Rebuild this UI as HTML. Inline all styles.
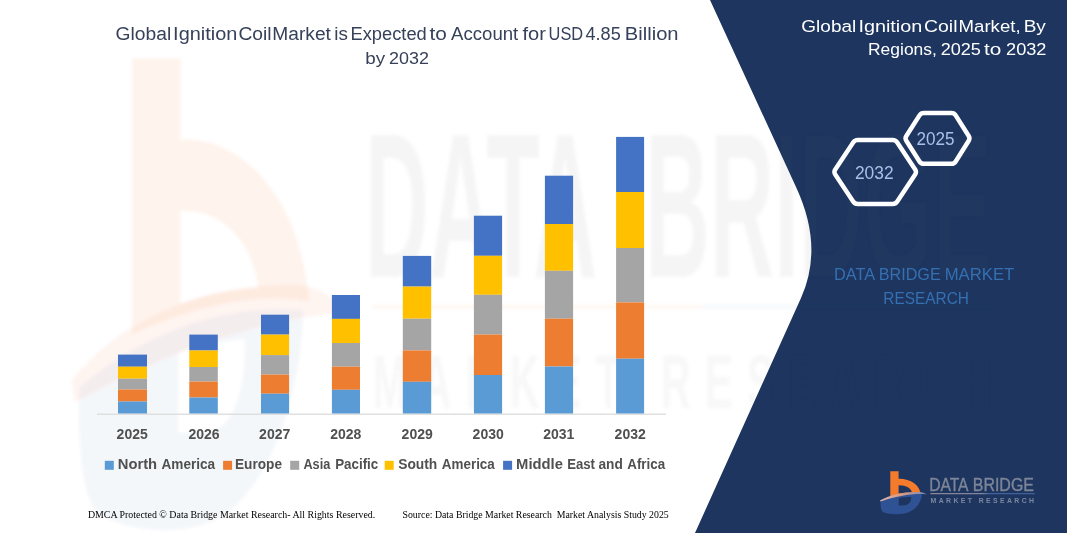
<!DOCTYPE html>
<html>
<head>
<meta charset="utf-8">
<title>Global Ignition Coil Market</title>
<style>
html,body{margin:0;padding:0;background:#fff;}
body{width:1067px;height:533px;overflow:hidden;font-family:"Liberation Sans",sans-serif;}
svg{display:block;}
text{font-family:"Liberation Sans",sans-serif;}
.serif{font-family:"Liberation Serif",serif;}
</style>
</head>
<body>
<svg width="1067" height="533" viewBox="0 0 1067 533">
  <defs>
    <path id="panel" d="M710,0 L796,187 Q824,247 801,298 L695,533 L1067,533 L1067,0 Z"/>

    <linearGradient id="swg" x1="0" x2="1" y1="0" y2="0">
      <stop offset="0" stop-color="#d6b6b4"/><stop offset="0.45" stop-color="#d99a84"/><stop offset="0.8" stop-color="#9a93aa"/><stop offset="1" stop-color="#6f86b4"/>
    </linearGradient>
    <linearGradient id="ulg" x1="0" x2="1" y1="0" y2="0">
      <stop offset="0" stop-color="#a79aa6"/><stop offset="0.5" stop-color="#9c97ad"/><stop offset="0.56" stop-color="#4d6fae"/><stop offset="1" stop-color="#4a6aa8"/>
    </linearGradient>
    <!-- logo icon pieces in logo pixel coordinates -->
    <path id="lg-b" fill-rule="evenodd" d="M890.3,471.3 L898.6,471.3 L898.6,478.7 C904,478.5 910,480 914.2,483.2 C918,486 920,489.6 920.6,493.4 C912,492.6 902,493.6 890.3,496.4 Z M898.6,485.2 L898.6,493.6 C903,492.8 907.6,492.3 911.9,492.2 C911,488.2 906,485 898.6,485.2 Z"/>
    <path id="lg-sw" d="M880,500.6 C889,494.6 904,491.6 919,491.9 C922.4,492.2 924.8,493 926.6,494.4 C915,493.2 897,495.6 880.6,501.6 Z"/>
    <path id="wm-sw" d="M880,500.6 C889,494.6 904,491.6 919,491.9 C922.4,492.2 924.8,493 926.6,494.4 C915,494.8 897,497.6 880.6,502.6 Z"/>
    <path id="lg-bl" fill-rule="evenodd" d="M880.6,501.2 C893,496 908,493.6 922,494.2 C921.6,501 917,509 908,512.6 C902,514.8 890,514.6 884,512.6 C881.4,511.4 880.2,507 880.6,501.2 Z M898.8,498 L898.8,505.4 L905.4,505.2 C909.6,504.6 911.6,500.6 911.2,496.8 C907,497 902.6,497.4 898.8,498 Z"/>

    <filter id="wmblur" x="-5%" y="-5%" width="110%" height="110%"><feGaussianBlur stdDeviation="1.6"/></filter>
    <clipPath id="whiteClip"><path d="M0,0 L710,0 L796,187 Q824,247 801,298 L695,533 L0,533 Z"/></clipPath>
    <clipPath id="panelClip"><use href="#panel"/></clipPath>
  </defs>

  <!-- background -->
  <rect x="0" y="0" width="1067" height="533" fill="#ffffff"/>

  <!-- WATERMARK-WHITE -->

  <!-- navy panel -->
  <use href="#panel" fill="#1d355f"/>

  <!-- WATERMARK-NAVY -->
  <g clip-path="url(#whiteClip)"><g id="watermark" filter="url(#wmblur)">
    <g transform="matrix(5.4 0 0 11 -4675.6 -5126)">
      <use href="#lg-bl" fill="#2f5295" opacity="0.047"/>
    </g>
    <g transform="matrix(5.85 0 0 11 -5076.3 -5126)">
      <use href="#lg-b" fill="#ea5a1a" opacity="0.07"/>
      <use href="#wm-sw" fill="#ea5a1a" opacity="0.06"/>
    </g>
    <g transform="matrix(6 0 0 11 -5211 -5126)">
      <g font-size="18.8" font-weight="bold" fill="#777777" opacity="0.075">
        <text x="929.34" y="491.2" textLength="38.68" lengthAdjust="spacingAndGlyphs">DATA</text>
        <text x="976.03" y="491.2" textLength="57.85" lengthAdjust="spacingAndGlyphs">BRIDGE</text>
      </g>
      <text x="930.6" y="503.1" font-size="6.9" font-weight="bold" fill="#777777" opacity="0.05" textLength="103.4" lengthAdjust="spacing">MARKET  RESEARCH</text>
    </g>
    <rect x="372" y="305" width="330" height="3.5" fill="#f47b2b" opacity="0.06"/>
    <rect x="702" y="305" width="290" height="3.5" fill="#4d6fae" opacity="0.06"/>
  </g></g>
  <g clip-path="url(#panelClip)" opacity="0.45"><g filter="url(#wmblur)">
    <g transform="matrix(5.4 0 0 11 -4675.6 -5126)">
      <use href="#lg-bl" fill="#2f5295" opacity="0.047"/>
    </g>
    <g transform="matrix(5.85 0 0 11 -5076.3 -5126)">
      <use href="#lg-b" fill="#ea5a1a" opacity="0.07"/>
      <use href="#wm-sw" fill="#ea5a1a" opacity="0.06"/>
    </g>
    <g transform="matrix(6 0 0 11 -5211 -5126)">
      <g font-size="18.8" font-weight="bold" fill="#777777" opacity="0.075">
        <text x="929.34" y="491.2" textLength="38.68" lengthAdjust="spacingAndGlyphs">DATA</text>
        <text x="976.03" y="491.2" textLength="57.85" lengthAdjust="spacingAndGlyphs">BRIDGE</text>
      </g>
      <text x="930.6" y="503.1" font-size="6.9" font-weight="bold" fill="#777777" opacity="0.05" textLength="103.4" lengthAdjust="spacing">MARKET  RESEARCH</text>
    </g>
    <rect x="372" y="305" width="330" height="3.5" fill="#f47b2b" opacity="0.06"/>
    <rect x="702" y="305" width="290" height="3.5" fill="#4d6fae" opacity="0.06"/>
  </g></g>

  <!-- axis line -->
  <rect x="97" y="413.6" width="569" height="1.2" fill="#d9d9d9"/>

  <!-- BARS -->
  <g id="bars" shape-rendering="auto">
  <rect x="118.0" y="354.6" width="29.0" height="12.1" fill="#4472c4"/>
  <rect x="118.0" y="366.7" width="29.0" height="12.0" fill="#ffc000"/>
  <rect x="118.0" y="378.7" width="29.0" height="10.8" fill="#a5a5a5"/>
  <rect x="118.0" y="389.5" width="29.0" height="12.0" fill="#ed7d31"/>
  <rect x="118.0" y="401.5" width="29.0" height="12.0" fill="#5b9bd5"/>
  <rect x="189.3" y="334.6" width="28.5" height="15.9" fill="#4472c4"/>
  <rect x="189.3" y="350.5" width="28.5" height="16.5" fill="#ffc000"/>
  <rect x="189.3" y="367.0" width="28.5" height="14.6" fill="#a5a5a5"/>
  <rect x="189.3" y="381.6" width="28.5" height="15.9" fill="#ed7d31"/>
  <rect x="189.3" y="397.5" width="28.5" height="16.0" fill="#5b9bd5"/>
  <rect x="261.0" y="314.7" width="28.1" height="19.9" fill="#4472c4"/>
  <rect x="261.0" y="334.6" width="28.1" height="20.5" fill="#ffc000"/>
  <rect x="261.0" y="355.1" width="28.1" height="19.5" fill="#a5a5a5"/>
  <rect x="261.0" y="374.6" width="28.1" height="19.1" fill="#ed7d31"/>
  <rect x="261.0" y="393.7" width="28.1" height="19.8" fill="#5b9bd5"/>
  <rect x="331.9" y="295.0" width="28.1" height="23.9" fill="#4472c4"/>
  <rect x="331.9" y="318.9" width="28.1" height="24.1" fill="#ffc000"/>
  <rect x="331.9" y="343.0" width="28.1" height="23.7" fill="#a5a5a5"/>
  <rect x="331.9" y="366.7" width="28.1" height="23.1" fill="#ed7d31"/>
  <rect x="331.9" y="389.8" width="28.1" height="23.7" fill="#5b9bd5"/>
  <rect x="402.8" y="255.9" width="28.4" height="30.7" fill="#4472c4"/>
  <rect x="402.8" y="286.6" width="28.4" height="32.1" fill="#ffc000"/>
  <rect x="402.8" y="318.7" width="28.4" height="31.7" fill="#a5a5a5"/>
  <rect x="402.8" y="350.4" width="28.4" height="31.4" fill="#ed7d31"/>
  <rect x="402.8" y="381.8" width="28.4" height="31.7" fill="#5b9bd5"/>
  <rect x="473.9" y="215.7" width="28.2" height="40.1" fill="#4472c4"/>
  <rect x="473.9" y="255.8" width="28.2" height="39.0" fill="#ffc000"/>
  <rect x="473.9" y="294.8" width="28.2" height="39.8" fill="#a5a5a5"/>
  <rect x="473.9" y="334.6" width="28.2" height="40.4" fill="#ed7d31"/>
  <rect x="473.9" y="375.0" width="28.2" height="38.5" fill="#5b9bd5"/>
  <rect x="544.9" y="175.7" width="28.2" height="48.3" fill="#4472c4"/>
  <rect x="544.9" y="224.0" width="28.2" height="46.8" fill="#ffc000"/>
  <rect x="544.9" y="270.8" width="28.2" height="47.9" fill="#a5a5a5"/>
  <rect x="544.9" y="318.7" width="28.2" height="47.8" fill="#ed7d31"/>
  <rect x="544.9" y="366.5" width="28.2" height="47.0" fill="#5b9bd5"/>
  <rect x="616.1" y="136.9" width="28.0" height="55.1" fill="#4472c4"/>
  <rect x="616.1" y="192.0" width="28.0" height="56.0" fill="#ffc000"/>
  <rect x="616.1" y="248.0" width="28.0" height="54.4" fill="#a5a5a5"/>
  <rect x="616.1" y="302.4" width="28.0" height="56.3" fill="#ed7d31"/>
  <rect x="616.1" y="358.7" width="28.0" height="54.8" fill="#5b9bd5"/>
  </g>

  <!-- TEXT-LEFT -->
  <g id="title" fill="#36415a" font-size="17.6">
    <text x="115.64" y="39.8" textLength="55.63" lengthAdjust="spacingAndGlyphs">Global</text>
    <text x="173.11" y="39.8" textLength="64.18" lengthAdjust="spacingAndGlyphs">Ignition</text>
    <text x="238.44" y="39.8" textLength="33.17" lengthAdjust="spacingAndGlyphs">Coil</text>
    <text x="272.37" y="39.8" textLength="58.55" lengthAdjust="spacingAndGlyphs">Market</text>
    <text x="334.37" y="39.8" textLength="13.63" lengthAdjust="spacingAndGlyphs">is</text>
    <text x="350.44" y="39.8" textLength="76.35" lengthAdjust="spacingAndGlyphs">Expected</text>
    <text x="429.49" y="39.8" textLength="17.32" lengthAdjust="spacingAndGlyphs">to</text>
    <text x="451.00" y="39.8" textLength="67.26" lengthAdjust="spacingAndGlyphs">Account</text>
    <text x="522.50" y="39.8" textLength="23.44" lengthAdjust="spacingAndGlyphs">for</text>
    <text x="548.57" y="39.8" textLength="34.59" lengthAdjust="spacingAndGlyphs">USD</text>
    <text x="585.54" y="39.8" textLength="35.21" lengthAdjust="spacingAndGlyphs">4.85</text>
    <text x="624.79" y="39.8" textLength="53.79" lengthAdjust="spacingAndGlyphs">Billion</text>
    <text font-size="17.3" x="365.28" y="63.6" textLength="19.84" lengthAdjust="spacingAndGlyphs">by</text>
    <text font-size="17.3" x="389.10" y="63.6" textLength="39.89" lengthAdjust="spacingAndGlyphs">2032</text>
  </g>
  <g id="years" fill="#505050" font-size="14" font-weight="bold" text-anchor="middle">
    <text x="132.2" y="439.2">2025</text>
    <text x="204.1" y="439.2">2026</text>
    <text x="274.7" y="439.2">2027</text>
    <text x="345.8" y="439.2">2028</text>
    <text x="417.2" y="439.2">2029</text>
    <text x="488.2" y="439.2">2030</text>
    <text x="558.8" y="439.2">2031</text>
    <text x="630.2" y="439.2">2032</text>
  </g>
  <g id="legend" fill="#505050" font-size="14" font-weight="bold">
    <rect x="104.8" y="460.8" width="9" height="9" fill="#5b9bd5"/>
    <rect x="223.1" y="460.8" width="9" height="9" fill="#ed7d31"/>
    <rect x="290.2" y="460.8" width="9" height="9" fill="#a5a5a5"/>
    <rect x="384.7" y="460.8" width="9" height="9" fill="#ffc000"/>
    <rect x="503.1" y="460.8" width="9" height="9" fill="#4472c4"/>
    <text x="117.74" y="469.0" textLength="39.36" lengthAdjust="spacingAndGlyphs">North</text>
    <text x="161.56" y="469.0" textLength="53.63" lengthAdjust="spacingAndGlyphs">America</text>
    <text x="235.01" y="469.0" textLength="47.07" lengthAdjust="spacingAndGlyphs">Europe</text>
    <text x="303.38" y="469.0" textLength="26.92" lengthAdjust="spacingAndGlyphs">Asia</text>
    <text x="335.13" y="469.0" textLength="43.16" lengthAdjust="spacingAndGlyphs">Pacific</text>
    <text x="398.19" y="469.0" textLength="39.08" lengthAdjust="spacingAndGlyphs">South</text>
    <text x="441.86" y="469.0" textLength="52.93" lengthAdjust="spacingAndGlyphs">America</text>
    <text x="516.14" y="469.0" textLength="46.80" lengthAdjust="spacingAndGlyphs">Middle</text>
    <text x="567.14" y="469.0" textLength="27.82" lengthAdjust="spacingAndGlyphs">East</text>
    <text x="598.49" y="469.0" textLength="24.34" lengthAdjust="spacingAndGlyphs">and</text>
    <text x="627.27" y="469.0" textLength="37.89" lengthAdjust="spacingAndGlyphs">Africa</text>
  </g>
  <g id="footer" class="serif" fill="#000000" font-size="10">
    <text class="serif" x="87.9" y="517.8" textLength="287.3" lengthAdjust="spacingAndGlyphs">DMCA Protected © Data Bridge Market Research-  All Rights Reserved.</text>
    <text class="serif" x="402.5" y="517.8" textLength="266.2" lengthAdjust="spacingAndGlyphs" xml:space="preserve">Source: Data Bridge Market Research  Market Analysis Study 2025</text>
  </g>

  <!-- TEXT-RIGHT -->
  <g id="rtitle" fill="#ffffff" font-size="17.2">
    <text x="801.35" y="32.3" textLength="54.90" lengthAdjust="spacingAndGlyphs">Global</text>
    <text x="858.42" y="32.3" textLength="63.86" lengthAdjust="spacingAndGlyphs">Ignition</text>
    <text x="924.03" y="32.3" textLength="33.49" lengthAdjust="spacingAndGlyphs">Coil</text>
    <text x="958.61" y="32.3" textLength="61.94" lengthAdjust="spacingAndGlyphs">Market,</text>
    <text x="1023.68" y="32.3" textLength="22.16" lengthAdjust="spacingAndGlyphs">By</text>
    <text x="868.00" y="55.4" textLength="68.91" lengthAdjust="spacingAndGlyphs">Regions,</text>
    <text x="940.70" y="55.4" textLength="40.22" lengthAdjust="spacingAndGlyphs">2025</text>
    <text x="983.99" y="55.4" textLength="17.32" lengthAdjust="spacingAndGlyphs">to</text>
    <text x="1006.09" y="55.4" textLength="40.41" lengthAdjust="spacingAndGlyphs">2032</text>
  </g>
  <g id="dbmr" fill="#3470b2" font-size="17.3">
    <text x="834.10" y="279.6" textLength="41.06" lengthAdjust="spacingAndGlyphs">DATA</text>
    <text x="878.71" y="279.6" textLength="62.01" lengthAdjust="spacingAndGlyphs">BRIDGE</text>
    <text x="944.66" y="279.6" textLength="69.61" lengthAdjust="spacingAndGlyphs">MARKET</text>
    <text x="883.37" y="303.8" textLength="85.49" lengthAdjust="spacingAndGlyphs">RESEARCH</text>
  </g>

  <!-- HEXAGONS -->
  <g id="hex" fill="none" stroke="#ffffff" stroke-width="4.5" stroke-linejoin="round">
    <path d="M835.26,174.50 Q833.60,172.00 835.26,169.50 L853.14,142.50 Q854.80,140.00 857.80,140.00 L892.60,140.00 Q895.60,140.00 897.26,142.50 L915.14,169.50 Q916.80,172.00 915.14,174.50 L897.26,201.50 Q895.60,204.00 892.60,204.00 L857.80,204.00 Q854.80,204.00 853.14,201.50 Z"/>
    <path d="M906.31,140.76 Q904.80,138.40 906.31,136.04 L919.49,115.36 Q921.00,113.00 923.80,113.00 L951.40,113.00 Q954.20,113.00 955.69,115.37 L968.71,136.03 Q970.20,138.40 968.71,140.77 L955.69,161.43 Q954.20,163.80 951.40,163.80 L923.80,163.80 Q921.00,163.80 919.49,161.44 Z"/>
  </g>
  <g fill="#a9c1e8" font-size="18.2">
    <text x="854.9" y="178.8" textLength="38.7" lengthAdjust="spacingAndGlyphs">2032</text>
    <text x="916.4" y="145" textLength="38" lengthAdjust="spacingAndGlyphs">2025</text>
  </g>

  <!-- LOGO -->
  <g id="logo">
    <use href="#lg-bl" fill="#2f5295"/>
    <use href="#lg-b" fill="#f47b2b"/>
    <use href="#lg-sw" fill="url(#swg)"/>
    <g font-size="18.8" fill="#7d8698" stroke="#7d8698" stroke-width="0.35">
      <text x="929.15" y="491.2" textLength="39.41" lengthAdjust="spacingAndGlyphs">DATA</text>
      <text x="972.72" y="491.2" textLength="61.28" lengthAdjust="spacingAndGlyphs">BRIDGE</text>
    </g>
    <rect x="930.4" y="493.2" width="104.4" height="1" fill="url(#ulg)"/>
    <text x="930.6" y="503.1" font-size="6.9" font-weight="bold" fill="#7c88a0" textLength="103.4" lengthAdjust="spacing">MARKET  RESEARCH</text>
  </g>
</svg>
</body>
</html>
